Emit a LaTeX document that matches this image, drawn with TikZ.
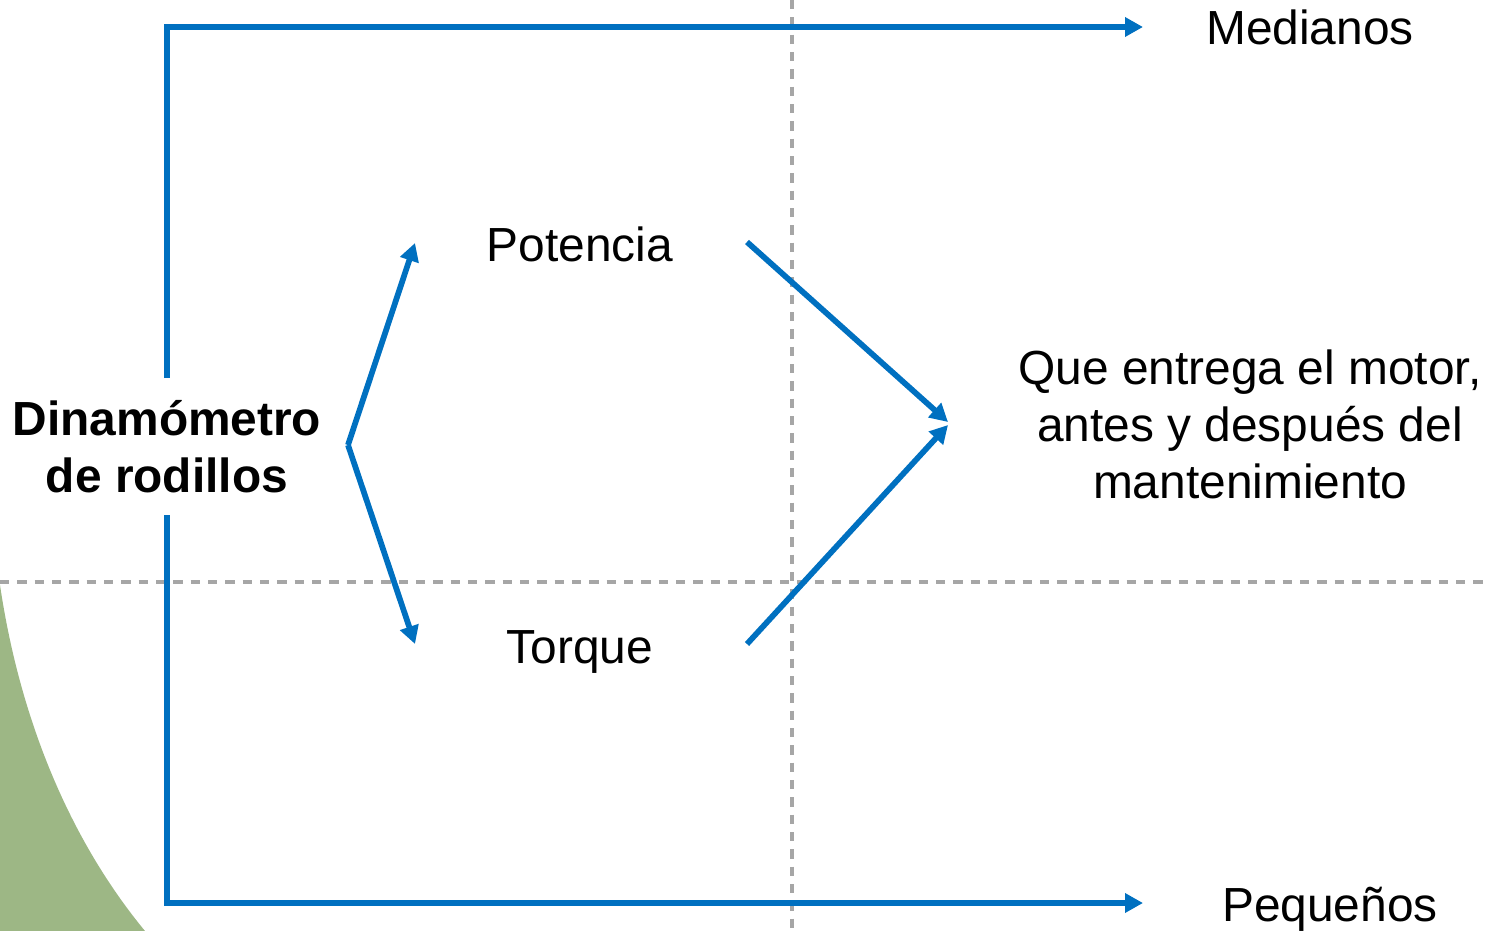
\documentclass[tikz,border=0pt]{standalone}
\usepackage{fontspec}
\setmainfont{Liberation Sans}
\usetikzlibrary{arrows.meta}
\definecolor{bluel}{RGB}{0,112,192}
\definecolor{grayd}{RGB}{166,166,166}
\definecolor{greenf}{RGB}{157,183,133}
\tikzset{
  conn/.style={draw=bluel, line width=4.3pt, line join=miter},
  arr/.style={conn, -{Triangle[length=13.5pt,width=14pt]}},
  guide/.style={draw=grayd, line width=2.5pt, dash pattern=on 7pt off 6pt},
  lbl/.style={font=\fontsize{35.9}{42.8}\selectfont, align=center, inner sep=0pt},
  blbl/.style={lbl, font=\fontsize{35.9}{42.8}\selectfont\bfseries}
}
\begin{document}
\begin{tikzpicture}[x=0.75pt,y=-0.75pt]
\useasboundingbox (0,0) rectangle (1488,931);
% green background shape
\fill[greenf] (0,585) .. controls (20,720) and (70,840) .. (145,931) -- (0,931) -- cycle;
% dashed guides
\coordinate (gvT) at (792,0);
\coordinate (gvB) at (792,931);
\coordinate (ghL) at (0,582);
\coordinate (ghR) at (1488,582);
\draw[guide] (gvT) -- (gvB);
\draw[guide] (ghL) -- (ghR);
% text nodes
\node[lbl, anchor=base] (med) at (1310,45) {Medianos};
\node[lbl, anchor=base] (peq) at (1330,921) {Pequeños};
\node[blbl, anchor=center] (din) at (167,447) {Dinamómetro\\de rodillos};
\node[lbl, anchor=base] (pot) at (580,261) {Potencia};
\node[lbl, anchor=base] (tor) at (580,663) {Torque};
\node[lbl, anchor=center] (que) at (1250,424) {Que entrega el motor,\\antes y después del\\mantenimiento};
% connector coordinates
\coordinate (dinT) at (167,378);
\coordinate (dinB) at (167,515);
\coordinate (medA) at (1143,27);
\coordinate (peqA) at (1143,903);
\coordinate (apex) at (348,445);
\coordinate (potA) at (415,243);
\coordinate (torA) at (415,644);
\coordinate (potS) at (747,242);
\coordinate (torS) at (747,644);
\coordinate (queA) at (948,422);
\coordinate (queB) at (948,425);
% connectors
\draw[arr] (dinT) |- (medA);
\draw[arr] (dinB) |- (peqA);
\draw[arr] (apex) -- (potA);
\draw[arr] (apex) -- (torA);
\draw[arr] (potS) -- (queA);
\draw[arr] (torS) -- (queB);
\end{tikzpicture}
\end{document}
